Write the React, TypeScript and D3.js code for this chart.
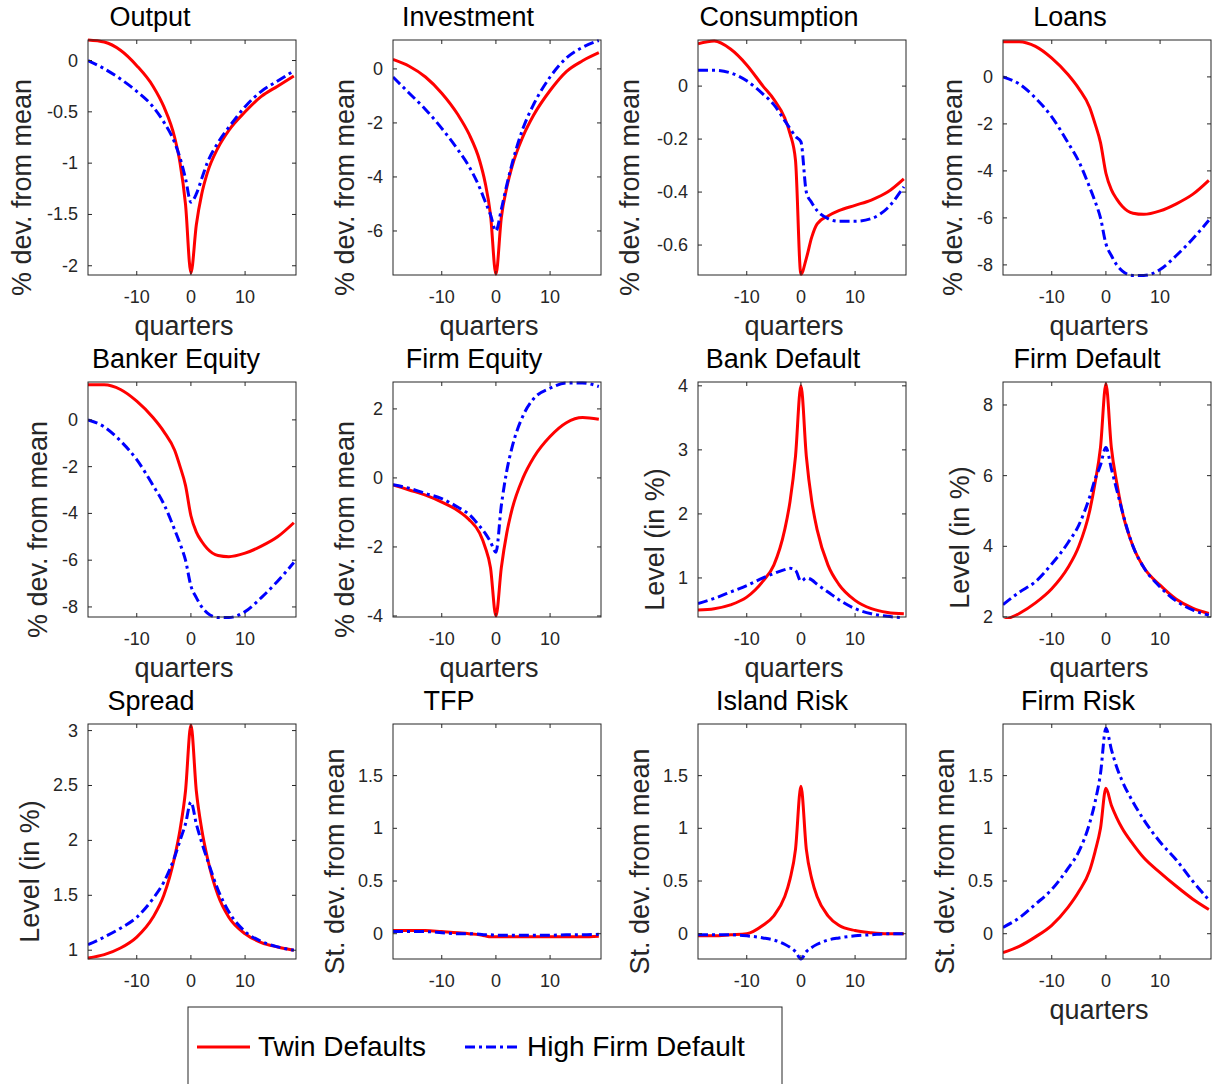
import React, { useEffect, useRef } from 'react';
import * as d3 from 'd3';

const quarters = [-19, -16, -13, -10, -7, -5, -3, -2, -1, 0, 1, 2, 3, 5, 7, 10, 13, 16, 19];

const outputRed = [0.2, 0.18, 0.1, -0.05, -0.25, -0.45, -0.75, -1.0, -1.4, -2.07, -1.6, -1.3, -1.1, -0.85, -0.68, -0.5, -0.35, -0.25, -0.15];
const outputBlue = [0, -0.08, -0.18, -0.3, -0.45, -0.6, -0.8, -0.95, -1.15, -1.38, -1.3, -1.15, -1.0, -0.8, -0.65, -0.45, -0.3, -0.2, -0.1];
const investRed = [0.35, 0.1, -0.3, -0.9, -1.7, -2.4, -3.4, -4.2, -5.4, -7.6, -5.5, -4.4, -3.6, -2.5, -1.7, -0.8, -0.1, 0.3, 0.6];
const investBlue = [-0.3, -0.9, -1.5, -2.2, -3.0, -3.6, -4.4, -4.9, -5.4, -6.0, -5.2, -4.3, -3.5, -2.2, -1.3, -0.3, 0.4, 0.8, 1.05];
const consRed = [0.16, 0.17, 0.14, 0.08, 0.0, -0.05, -0.12, -0.18, -0.28, -0.71, -0.65, -0.57, -0.52, -0.49, -0.47, -0.45, -0.43, -0.4, -0.35];
const consBlue = [0.06, 0.06, 0.05, 0.02, -0.03, -0.07, -0.13, -0.16, -0.19, -0.21, -0.4, -0.44, -0.47, -0.5, -0.51, -0.51, -0.5, -0.46, -0.38];
const loansRed = [1.5, 1.5, 1.3, 0.8, 0.1, -0.5, -1.3, -2.0, -2.8, -4.1, -4.8, -5.2, -5.5, -5.8, -5.85, -5.7, -5.4, -5.0, -4.4];
const loansBlue = [0, -0.3, -0.9, -1.7, -2.8, -3.6, -4.7, -5.3, -6.0, -7.1, -7.6, -8.0, -8.25, -8.45, -8.45, -8.2, -7.6, -6.9, -6.1];
const equityRed = [1.5, 1.5, 1.3, 0.8, 0.1, -0.5, -1.3, -2.0, -2.8, -4.1, -4.8, -5.2, -5.5, -5.8, -5.85, -5.7, -5.4, -5.0, -4.4];
const equityBlue = [0, -0.3, -0.9, -1.7, -2.8, -3.6, -4.7, -5.3, -6.0, -7.1, -7.6, -8.0, -8.25, -8.45, -8.45, -8.2, -7.6, -6.9, -6.1];
const firmEqRed = [-0.2, -0.35, -0.5, -0.7, -0.95, -1.2, -1.6, -2.0, -2.6, -4.0, -2.6, -1.6, -0.9, 0, 0.6, 1.2, 1.6, 1.75, 1.7];
const firmEqBlue = [-0.2, -0.3, -0.45, -0.6, -0.85, -1.05, -1.4, -1.6, -1.85, -2.15, -0.8, 0.2, 0.9, 1.8, 2.3, 2.6, 2.75, 2.75, 2.65];
const bankDefRed = [0.5, 0.52, 0.58, 0.7, 0.95, 1.2, 1.75, 2.2, 2.9, 4.0, 2.9, 2.2, 1.75, 1.2, 0.9, 0.65, 0.52, 0.46, 0.44];
const bankDefBlue = [0.6, 0.68, 0.78, 0.88, 1.0, 1.07, 1.13, 1.15, 1.12, 0.95, 1.0, 0.97, 0.9, 0.78, 0.66, 0.52, 0.44, 0.4, 0.38];
const firmDefRed = [1.9, 2.1, 2.4, 2.8, 3.4, 4.0, 5.0, 5.8, 6.8, 8.6, 6.8, 5.8, 5.0, 4.0, 3.4, 2.9, 2.5, 2.25, 2.1];
const firmDefBlue = [2.35, 2.7, 3.0, 3.5, 4.1, 4.6, 5.4, 5.9, 6.3, 6.8, 6.2, 5.6, 5.0, 4.0, 3.4, 2.85, 2.45, 2.2, 2.05];
const spreadRed = [0.93, 0.96, 1.02, 1.12, 1.3, 1.5, 1.85, 2.1, 2.45, 3.05, 2.45, 2.1, 1.85, 1.5, 1.3, 1.15, 1.07, 1.03, 1.0];
const spreadBlue = [1.05, 1.12, 1.2, 1.3, 1.47, 1.62, 1.85, 2.0, 2.15, 2.35, 2.15, 1.98, 1.83, 1.55, 1.35, 1.17, 1.08, 1.03, 1.0];
const tfpRed = [0.03, 0.03, 0.03, 0.02, 0.01, 0.0, -0.01, -0.02, -0.03, -0.03, -0.03, -0.03, -0.03, -0.03, -0.03, -0.03, -0.03, -0.03, -0.025];
const tfpBlue = [0.02, 0.02, 0.02, 0.01, 0.0, 0, -0.005, -0.01, -0.01, -0.015, -0.015, -0.015, -0.015, -0.015, -0.015, -0.015, -0.01, -0.01, -0.005];
const islandRed = [-0.02, -0.02, -0.01, 0.0, 0.08, 0.17, 0.35, 0.52, 0.8, 1.4, 0.8, 0.52, 0.35, 0.17, 0.08, 0.03, 0.01, 0.0, 0.0];
const islandBlue = [-0.01, -0.01, -0.01, -0.02, -0.04, -0.06, -0.1, -0.13, -0.17, -0.24, -0.17, -0.13, -0.1, -0.06, -0.04, -0.02, -0.01, 0, 0];
const firmRiskRed = [-0.18, -0.12, -0.03, 0.08, 0.25, 0.4, 0.6, 0.78, 1.0, 1.38, 1.22, 1.1, 1.0, 0.85, 0.72, 0.58, 0.45, 0.33, 0.23];
const firmRiskBlue = [0.06, 0.15, 0.28, 0.42, 0.62, 0.78, 1.05, 1.25, 1.52, 1.95, 1.75, 1.58, 1.45, 1.25, 1.08, 0.87, 0.7, 0.5, 0.32];

const xTicks = [-10, 0, 10];
const pctLabel = '% dev. from mean';
const levLabel = 'Level (in %)';
const sdLabel = 'St. dev. from mean';
const sdTicks = [0, 0.5, 1, 1.5];

const panels = [
  { title: 'Output', red: outputRed, blue: outputBlue, y: [-2.09, 0.2], ticks: [-2, -1.5, -1, -0.5, 0], ylabel: pctLabel, tx: 62, lx: -66, ly: 30, xl: true },
  { title: 'Investment', red: investRed, blue: investBlue, y: [-7.63, 1.07], ticks: [-6, -4, -2, 0], ylabel: pctLabel, tx: 75, lx: -48, ly: 30, xl: true },
  { title: 'Consumption', red: consRed, blue: consBlue, y: [-0.713, 0.174], ticks: [-0.6, -0.4, -0.2, 0], ylabel: pctLabel, tx: 81, lx: -68, ly: 30, xl: true },
  { title: 'Loans', red: loansRed, blue: loansBlue, y: [-8.43, 1.57], ticks: [-8, -6, -4, -2, 0], ylabel: pctLabel, tx: 67, lx: -50, ly: 30, xl: true },
  { title: 'Banker Equity', red: equityRed, blue: equityBlue, y: [-8.43, 1.62], ticks: [-8, -6, -4, -2, 0], ylabel: pctLabel, tx: 88, lx: -50, ly: 30, xl: true },
  { title: 'Firm Equity', red: firmEqRed, blue: firmEqBlue, y: [-4.03, 2.78], ticks: [-4, -2, 0, 2], ylabel: pctLabel, tx: 81, lx: -48, ly: 30, xl: true },
  { title: 'Bank Default', red: bankDefRed, blue: bankDefBlue, y: [0.39, 4.06], ticks: [1, 2, 3, 4], ylabel: levLabel, tx: 85, lx: -43, ly: 40, xl: true },
  { title: 'Firm Default', red: firmDefRed, blue: firmDefBlue, y: [2, 8.65], ticks: [2, 4, 6, 8], ylabel: levLabel, tx: 84, lx: -43, ly: 38, xl: true },
  { title: 'Spread', red: spreadRed, blue: spreadBlue, y: [0.92, 3.06], ticks: [1, 1.5, 2, 2.5, 3], ylabel: levLabel, tx: 63, lx: -58, ly: 30, xl: false },
  { title: 'TFP', red: tfpRed, blue: tfpBlue, y: [-0.24, 1.99], ticks: sdTicks, ylabel: sdLabel, tx: 56, lx: -58, ly: 20, xl: false },
  { title: 'Island Risk', red: islandRed, blue: islandBlue, y: [-0.24, 1.99], ticks: sdTicks, ylabel: sdLabel, tx: 84, lx: -58, ly: 20, xl: false },
  { title: 'Firm Risk', red: firmRiskRed, blue: firmRiskBlue, y: [-0.24, 1.99], ticks: sdTicks, ylabel: sdLabel, tx: 75, lx: -58, ly: 20, xl: true },
];

const colLeft = [88, 393, 698, 1003];
const rowTop = [40, 382, 724];
const PW = 208;
const PH = 235;
const FONT = 'Arial, "Liberation Sans", sans-serif';

const App = () => {
  const ref = useRef(null);

  useEffect(() => {
    const svg = d3.select(ref.current);
    svg.selectAll('*').remove();
    svg.style('font-family', FONT);

    panels.forEach((p, i) => {
      const left = colLeft[i % 4];
      const top = rowTop[Math.floor(i / 4)];
      const x = d3.scaleLinear().domain([-19, 19.4]).range([left, left + PW]);
      const y = d3.scaleLinear().domain(p.y).range([top + PH, top]);
      const g = svg.append('g');

      const clipId = 'clip' + i;
      g.append('clipPath').attr('id', clipId)
        .append('rect').attr('x', left).attr('y', top - 2).attr('width', PW).attr('height', PH + 4);

      const line = (vals) => d3.line().x((d, k) => x(quarters[k])).y(d => y(d)).curve(d3.curveMonotoneX)(vals);

      g.append('path').attr('d', line(p.red)).attr('fill', 'none')
        .attr('stroke', '#ff0000').attr('stroke-width', 3).attr('clip-path', `url(#${clipId})`);
      g.append('path').attr('d', line(p.blue)).attr('fill', 'none')
        .attr('stroke', '#0000ff').attr('stroke-width', 3).attr('stroke-dasharray', '10,4,3,4')
        .attr('clip-path', `url(#${clipId})`);

      // box
      g.append('rect').attr('x', left).attr('y', top).attr('width', PW).attr('height', PH)
        .attr('fill', 'none').attr('stroke', '#262626').attr('stroke-width', 1);

      // x ticks
      xTicks.forEach(t => {
        g.append('line').attr('x1', x(t)).attr('x2', x(t)).attr('y1', top + PH).attr('y2', top + PH - 4).attr('stroke', '#262626');
        g.append('line').attr('x1', x(t)).attr('x2', x(t)).attr('y1', top).attr('y2', top + 4).attr('stroke', '#262626');
        g.append('text').attr('x', x(t)).attr('y', top + PH + 28).attr('text-anchor', 'middle')
          .attr('font-size', 18).attr('fill', '#262626').text(t);
      });
      // y ticks
      p.ticks.forEach(t => {
        g.append('line').attr('x1', left).attr('x2', left + 4).attr('y1', y(t)).attr('y2', y(t)).attr('stroke', '#262626');
        g.append('line').attr('x1', left + PW).attr('x2', left + PW - 4).attr('y1', y(t)).attr('y2', y(t)).attr('stroke', '#262626');
        g.append('text').attr('x', left - 10).attr('y', y(t) + 6).attr('text-anchor', 'end')
          .attr('font-size', 18).attr('fill', '#262626').text(t);
      });

      g.append('text').attr('x', left + p.tx).attr('y', top - 14).attr('text-anchor', 'middle')
        .attr('font-size', 27).attr('fill', '#000').text(p.title);

      if (p.xl) {
        g.append('text').attr('x', left + PW / 2 - 8).attr('y', top + PH + 60).attr('text-anchor', 'middle')
          .attr('font-size', 27).attr('fill', '#262626').text('quarters');
      }

      const lx = left + p.lx;
      const ly = top + PH / 2 + p.ly;
      g.append('text').attr('transform', `translate(${lx},${ly}) rotate(-90)`).attr('text-anchor', 'middle')
        .attr('dy', '0.35em').attr('font-size', 27).attr('fill', '#262626').text(p.ylabel);
    });

    // legend
    const lg = svg.append('g');
    lg.append('rect').attr('x', 188).attr('y', 1007).attr('width', 594).attr('height', 90)
      .attr('fill', '#fff').attr('stroke', '#262626');
    lg.append('line').attr('x1', 197).attr('x2', 250).attr('y1', 1047).attr('y2', 1047)
      .attr('stroke', '#ff0000').attr('stroke-width', 3);
    lg.append('text').attr('x', 258).attr('y', 1056).attr('font-size', 28).text('Twin Defaults');
    lg.append('line').attr('x1', 465).attr('x2', 520).attr('y1', 1047).attr('y2', 1047)
      .attr('stroke', '#0000ff').attr('stroke-width', 3).attr('stroke-dasharray', '10,4,3,4');
    lg.append('text').attr('x', 527).attr('y', 1056).attr('font-size', 28).text('High Firm Default');
  }, []);

  return (
    <svg ref={ref} width={1216} height={1084} style={{ position: 'absolute', left: 0, top: 0, background: '#fff' }}></svg>
  );
};

export default App;
